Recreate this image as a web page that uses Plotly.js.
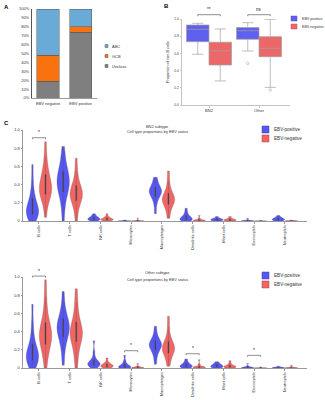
<!DOCTYPE html>
<html>
<head>
<meta charset="utf-8">
<script src="https://cdn.plot.ly/plotly-3.0.1.min.js"></script>
<style>html,body{margin:0;padding:0;background:#fff;}#chart{width:325px;height:400px;}</style>
</head>
<body>
<div id="chart"></div>
<script>
// ---------- Panel A data (percent of cases) ----------
const aCategories = ['EBV negative', 'EBV positive'];
const aUnclass = [19, 74];
const aGCB = [29, 6];
const aABC = [52, 20];
const aYTicks = [0, 10, 20, 30, 40, 50, 60, 70, 80, 90, 100];

// ---------- Panel B data (precomputed box statistics) ----------
const bCategories = ['BN2', 'Other'];
const bPosQ1 = [0.736, 0.764];
const bPosMedian = [0.880, 0.864];
const bPosQ3 = [0.930, 0.900];
const bPosLower = [0.590, 0.628];
const bPosUpper = [0.950, 0.957];
const bNegQ1 = [0.465, 0.562];
const bNegMedian = [0.630, 0.659];
const bNegQ3 = [0.730, 0.795];
const bNegLower = [0.280, 0.205];
const bNegUpper = [0.884, 0.996];
const bPosOutlierCat = [1];
const bPosOutlierVal = [0.484];
const bNegOutlierCat = [1];
const bNegOutlierVal = [0.174];
const bSigLabels = ['**', 'ns'];
const bSigY = [1.05, 1.05];

// ---------- Panel C data (estimated sample proportions per cell type) ----------
const cellTypes = ['B cells', 'T cells', 'NK cells', 'Monocytes', 'Macrophages',
  'Dendritic cells', 'Mast cells', 'Eosinophils', 'Neutrophils'];
const cTickVals = [0, 0.2, 0.4, 0.6, 0.8, 1.0];
const cTickText = ['0', '0.2', '0.4', '0.6', '0.8', '1.0'];

const bn2Pos = [
  [0.0, 0.02, 0.04, 0.06, 0.08, 0.10, 0.11, 0.12, 0.13, 0.14, 0.16, 0.19, 0.24, 0.27, 0.33, 0.45, 0.62],
  [0.0, 0.15, 0.25, 0.30, 0.34, 0.38, 0.40, 0.42, 0.44, 0.46, 0.50, 0.53, 0.56, 0.62, 0.70, 0.82],
  [0.0, 0.005, 0.01, 0.015, 0.02, 0.02, 0.025, 0.03, 0.035, 0.04, 0.05, 0.06, 0.08],
  [0.0, 0.0, 0.0, 0.001, 0.001, 0.002, 0.003, 0.005, 0.01],
  [0.08, 0.18, 0.24, 0.27, 0.29, 0.31, 0.32, 0.33, 0.34, 0.35, 0.37, 0.40, 0.44, 0.48],
  [0.0, 0.005, 0.01, 0.015, 0.02, 0.025, 0.03, 0.04, 0.05, 0.07, 0.10, 0.14],
  [0.0, 0.005, 0.01, 0.012, 0.015, 0.02, 0.025, 0.03, 0.05],
  [0.0, 0.0, 0.001, 0.002, 0.003, 0.005, 0.01, 0.03],
  [0.0, 0.005, 0.01, 0.015, 0.02, 0.025, 0.03, 0.04, 0.06]
];
const bn2Neg = [
  [0.04, 0.18, 0.25, 0.28, 0.30, 0.32, 0.34, 0.36, 0.37, 0.39, 0.42, 0.46, 0.50, 0.54, 0.60, 0.70, 0.87],
  [0.0, 0.10, 0.17, 0.21, 0.24, 0.26, 0.28, 0.29, 0.30, 0.32, 0.35, 0.38, 0.40, 0.46, 0.55, 0.69],
  [0.0, 0.005, 0.01, 0.012, 0.015, 0.02, 0.02, 0.025, 0.03, 0.04, 0.05, 0.08],
  [0.0, 0.0, 0.0, 0.0, 0.001, 0.002, 0.003, 0.005, 0.01, 0.03],
  [0.03, 0.10, 0.15, 0.18, 0.20, 0.22, 0.23, 0.24, 0.25, 0.27, 0.29, 0.31, 0.36, 0.44, 0.55],
  [0.0, 0.0, 0.002, 0.004, 0.005, 0.008, 0.01, 0.015, 0.03, 0.06],
  [0.0, 0.003, 0.006, 0.01, 0.012, 0.015, 0.02, 0.03, 0.05],
  [0.0, 0.0, 0.0, 0.001, 0.001, 0.002, 0.005],
  [0.0, 0.0, 0.001, 0.002, 0.003, 0.005, 0.01]
];
const otherPos = [
  [0.0, 0.02, 0.05, 0.07, 0.09, 0.11, 0.13, 0.14, 0.15, 0.17, 0.19, 0.22, 0.25, 0.30, 0.38, 0.50, 0.70],
  [0.03, 0.18, 0.27, 0.33, 0.37, 0.40, 0.42, 0.44, 0.46, 0.48, 0.51, 0.55, 0.60, 0.68, 0.84],
  [0.0, 0.01, 0.02, 0.03, 0.04, 0.045, 0.05, 0.055, 0.06, 0.07, 0.09, 0.12, 0.18, 0.30],
  [0.0, 0.002, 0.005, 0.008, 0.01, 0.015, 0.02, 0.03, 0.05, 0.08, 0.14],
  [0.04, 0.12, 0.17, 0.20, 0.22, 0.24, 0.25, 0.26, 0.27, 0.28, 0.30, 0.33, 0.38, 0.46],
  [0.0, 0.005, 0.01, 0.015, 0.02, 0.025, 0.03, 0.04, 0.05, 0.07, 0.10],
  [0.0, 0.005, 0.01, 0.015, 0.02, 0.025, 0.03, 0.04, 0.05, 0.07],
  [0.0, 0.001, 0.002, 0.003, 0.005, 0.008, 0.01, 0.02, 0.05],
  [0.0, 0.001, 0.002, 0.003, 0.005, 0.008, 0.01, 0.02]
];
const otherNeg = [
  [0.0, 0.10, 0.18, 0.22, 0.26, 0.30, 0.32, 0.34, 0.36, 0.38, 0.40, 0.43, 0.45, 0.50, 0.56, 0.65, 0.78, 0.97],
  [0.0, 0.12, 0.20, 0.27, 0.31, 0.34, 0.36, 0.38, 0.40, 0.42, 0.45, 0.48, 0.53, 0.62, 0.72, 0.87],
  [0.0, 0.005, 0.01, 0.015, 0.02, 0.025, 0.03, 0.035, 0.04, 0.05, 0.07, 0.11],
  [0.0, 0.0, 0.001, 0.002, 0.003, 0.005, 0.01, 0.02, 0.05],
  [0.02, 0.08, 0.13, 0.16, 0.18, 0.20, 0.21, 0.22, 0.23, 0.25, 0.27, 0.30, 0.35, 0.45, 0.57],
  [0.0, 0.002, 0.004, 0.006, 0.008, 0.01, 0.015, 0.02, 0.04, 0.09],
  [0.0, 0.004, 0.008, 0.01, 0.015, 0.02, 0.025, 0.03, 0.05, 0.08],
  [0.0, 0.0, 0.001, 0.001, 0.002, 0.003, 0.01],
  [0.0, 0.0, 0.001, 0.002, 0.003, 0.005, 0.01, 0.03]
];
const c1SigCat = [0];
const c1SigY = [0.915];
const c2SigCat = [0, 3, 5, 7];
const c2SigY = [1.01, 0.19, 0.157, 0.139];

// ---------- layout geometry (pixels) ----------
const W = 325, H = 400;
const FONT = 'Liberation Sans, Arial, sans-serif';
const panA = {x: [32, 97], y: [9, 98], xr: [-0.49, 1.5], yr: [0, 100]};
const panB = {x: [182, 290], y: [19, 105], xr: [-0.54, 1.62], yr: [0, 1]};
const panC1 = {x: [23, 307], y: [130, 221], xr: [-0.52, 8.72], yr: [0, 1]};
const panC2 = {x: [23, 307], y: [277, 368], xr: [-0.52, 8.72], yr: [0, 1]};
const VGAP = 0.15, VGGAP = 0.05, BGAP = 0.1;
const vOff = (1 - VGAP) / 4;
const bOff = (1 - BGAP) / 4;

const COL_ABC = '#6aaad6', COL_GCB = '#f8730f', COL_UNC = '#7f7f7f';
const COL_POS = 'rgba(72,72,242,0.92)', COL_NEG = 'rgba(240,88,88,0.92)';
const COL_BPOS = 'rgb(96,96,238)', COL_BNEG = 'rgb(236,104,104)';

function dom(p) {
  return {x: [p.x[0] / W, p.x[1] / W], y: [1 - p.y[1] / H, 1 - p.y[0] / H]};
}
function pxX(p, v) { return p.x[0] + (v - p.xr[0]) / (p.xr[1] - p.xr[0]) * (p.x[1] - p.x[0]); }
function pxY(p, v) { return p.y[1] - (v - p.yr[0]) / (p.yr[1] - p.yr[0]) * (p.y[1] - p.y[0]); }
function paperX(px) { return px / W; }
function paperY(py) { return 1 - py / H; }

const shapes = [];
const annotations = [];

function bracket(p, idx, yv, label, off, fs) {
  const x0 = pxX(p, idx - off), x1 = pxX(p, idx + off), yy = pxY(p, yv);
  const ln = {color: '#444', width: 0.6};
  shapes.push({type: 'line', xref: 'paper', yref: 'paper', x0: paperX(x0), x1: paperX(x1), y0: paperY(yy), y1: paperY(yy), line: ln});
  shapes.push({type: 'line', xref: 'paper', yref: 'paper', x0: paperX(x0), x1: paperX(x0), y0: paperY(yy), y1: paperY(yy + 1.5), line: ln});
  shapes.push({type: 'line', xref: 'paper', yref: 'paper', x0: paperX(x1), x1: paperX(x1), y0: paperY(yy), y1: paperY(yy + 1.5), line: ln});
  annotations.push({xref: 'paper', yref: 'paper', x: paperX((x0 + x1) / 2), y: paperY(yy - 0.3), text: label,
    showarrow: false, xanchor: 'center', yanchor: 'bottom', font: {size: fs, color: '#222', family: FONT}});
}
function text(px, py, t, size, opts) {
  annotations.push(Object.assign({xref: 'paper', yref: 'paper', x: paperX(px), y: paperY(py), text: t,
    showarrow: false, xanchor: 'left', yanchor: 'middle', font: {size: size, color: '#333', family: FONT}}, opts || {}));
}
function swatch(x0, y0, w, h, color, lineColor) {
  shapes.push({type: 'rect', xref: 'paper', yref: 'paper', x0: paperX(x0), x1: paperX(x0 + w),
    y0: paperY(y0 + h), y1: paperY(y0), fillcolor: color, line: {color: lineColor, width: 0.5}});
}

// ---------- traces ----------
const traces = [];
// Panel A stacked bars
[[aUnclass, 'Unclass', COL_UNC], [aGCB, 'GCB', COL_GCB], [aABC, 'ABC', COL_ABC]].forEach(function (s) {
  traces.push({type: 'bar', x: aCategories, y: s[0], name: s[1], xaxis: 'x', yaxis: 'y', width: 0.68,
    marker: {color: s[2], line: {color: '#555', width: 0.5}}, showlegend: false, hoverinfo: 'skip'});
});

// Panel B boxes
const bIdx = bCategories.map(function (c, i) { return i; });
traces.push({type: 'box', x: bIdx, q1: bPosQ1, median: bPosMedian, q3: bPosQ3, lowerfence: bPosLower, upperfence: bPosUpper,
  name: 'EBV-positive', xaxis: 'x2', yaxis: 'y2', offsetgroup: 'pos', fillcolor: COL_BPOS,
  line: {color: '#a0a0a0', width: 0.7}, whiskerwidth: 0.5, showlegend: false, boxpoints: false});
traces.push({type: 'box', x: bIdx, q1: bNegQ1, median: bNegMedian, q3: bNegQ3, lowerfence: bNegLower, upperfence: bNegUpper,
  name: 'EBV-negative', xaxis: 'x2', yaxis: 'y2', offsetgroup: 'neg', fillcolor: COL_BNEG,
  line: {color: '#a0a0a0', width: 0.7}, whiskerwidth: 0.5, showlegend: false, boxpoints: false});
traces.push({type: 'scatter', mode: 'markers', x: bPosOutlierCat.map(function (c) { return c - bOff; }), y: bPosOutlierVal,
  xaxis: 'x2', yaxis: 'y2', marker: {symbol: 'circle-open', size: 2.5, color: '#999', line: {width: 0.5}}, showlegend: false});
traces.push({type: 'scatter', mode: 'markers', x: bNegOutlierCat.map(function (c) { return c + bOff; }), y: bNegOutlierVal,
  xaxis: 'x2', yaxis: 'y2', marker: {symbol: 'circle-open', size: 2.5, color: '#999', line: {width: 0.5}}, showlegend: false});

// Panel C violins
function addViolins(data, grp, color, xa, ya, tag) {
  data.forEach(function (vals, i) {
    traces.push({type: 'violin', x: vals.map(function () { return cellTypes[i]; }), y: vals,
      name: grp === 'pos' ? 'EBV-positive' : 'EBV-negative', xaxis: xa, yaxis: ya,
      offsetgroup: grp, alignmentgroup: tag, scalegroup: tag + grp + i, scalemode: 'width',
      spanmode: 'hard', points: false, fillcolor: color,
      line: {color: 'rgba(90,90,90,0.55)', width: 0.5},
      box: {visible: true, width: 0.09, fillcolor: '#404040', line: {color: '#555', width: 0.3}},
      meanline: {visible: false}, showlegend: false, hoverinfo: 'skip'});
  });
}
addViolins(bn2Pos, 'pos', COL_POS, 'x3', 'y3', 'c1');
addViolins(bn2Neg, 'neg', COL_NEG, 'x3', 'y3', 'c1');
addViolins(otherPos, 'pos', COL_POS, 'x4', 'y4', 'c2');
addViolins(otherNeg, 'neg', COL_NEG, 'x4', 'y4', 'c2');

// ---------- annotations, brackets, legends ----------
text(2, 7, '<b>A</b>', 6, {font: {size: 6, color: '#000', family: FONT}});
text(162, 6, '<b>B</b>', 6, {font: {size: 6, color: '#000', family: FONT}});
text(2, 123, '<b>C</b>', 6, {font: {size: 6, color: '#000', family: FONT}});

// A legend
[['ABC', COL_ABC, 46], ['GCB', COL_GCB, 56], ['Unclass', COL_UNC, 66]].forEach(function (l) {
  swatch(105, l[2] - 1.5, 3, 3, l[1], '#555');
  text(109.5, l[2], l[0], 4);
});
// B legend
swatch(291, 16, 6, 5, COL_BPOS, '#5050c0');
swatch(291, 24, 6, 5, COL_BNEG, '#c05050');
text(300, 18.5, 'EBV-positive', 3.6);
text(300, 26.5, 'EBV-negative', 3.6);
// B y title
annotations.push({xref: 'paper', yref: 'paper', x: paperX(168), y: paperY(62), text: 'Proportion of non-B cells',
  textangle: -90, showarrow: false, xanchor: 'center', yanchor: 'middle', font: {size: 3.8, color: '#333', family: FONT}});
bSigLabels.forEach(function (lab, i) { bracket(panB, i, bSigY[i], lab, bOff, 4.5); });

// C titles and legends
text(157, 126.7, 'BN2 subtype', 3.9, {xanchor: 'center'});
text(157, 131.7, 'Cell type proportions by EBV status', 3.9, {xanchor: 'center'});
text(157, 272.3, 'Other subtype', 3.9, {xanchor: 'center'});
text(157, 279, 'Cell type proportions by EBV status', 3.9, {xanchor: 'center'});
[[126, 135], [272, 281]].forEach(function (ys) {
  swatch(262, ys[0], 7, 7, COL_POS, '#4040a0');
  swatch(262, ys[1], 7, 7, COL_NEG, '#a04040');
  text(272, ys[0] + 3.5, 'EBV-positive', 4.6);
  text(272, ys[1] + 3.5, 'EBV-negative', 4.6);
});
c1SigCat.forEach(function (c, i) { bracket(panC1, c, c1SigY[i], '*', vOff, 5); });
c2SigCat.forEach(function (c, i) { bracket(panC2, c, c2SigY[i], '*', vOff, 5); });

// ---------- axes ----------
const tickFont = {size: 4, color: '#333', family: FONT};
const dA = dom(panA), dB = dom(panB), dC1 = dom(panC1), dC2 = dom(panC2);
const layout = {
  width: W, height: H, margin: {l: 0, r: 0, t: 0, b: 0}, paper_bgcolor: '#fff', plot_bgcolor: 'rgba(0,0,0,0)',
  showlegend: false, barmode: 'stack', boxmode: 'group', boxgap: BGAP, boxgroupgap: 0,
  violinmode: 'group', violingap: VGAP, violingroupgap: VGGAP,
  font: {family: FONT, size: 4, color: '#333'},
  xaxis: {domain: dA.x, anchor: 'y', type: 'category', range: panA.xr, showline: true, linecolor: '#9a9a9a', linewidth: 1,
    ticks: '', tickfont: tickFont, showgrid: false, zeroline: false, fixedrange: true, automargin: false, ticklabelstandoff: 1},
  yaxis: {domain: dA.y, anchor: 'x', range: panA.yr, tickvals: aYTicks, ticktext: aYTicks.map(function (v) { return v + '%'; }),
    showline: true, linecolor: '#555', linewidth: 1, ticks: '', tickfont: tickFont, showgrid: false, zeroline: false,
    automargin: false, ticklabelstandoff: 1},
  xaxis2: {domain: dB.x, anchor: 'y2', range: panB.xr, tickvals: bIdx, ticktext: bCategories, showline: true, linecolor: '#c4c4c4',
    ticks: 'outside', ticklen: 1.5, tickcolor: '#c4c4c4', tickfont: {size: 4, color: '#333', family: FONT}, showgrid: false,
    zeroline: false, automargin: false},
  yaxis2: {domain: dB.y, anchor: 'x2', range: panB.yr, tickvals: [0, 0.2, 0.4, 0.6, 0.8, 1.0], tickformat: '.1f',
    showline: true, linecolor: '#c4c4c4', ticks: 'outside', ticklen: 1.5, tickcolor: '#c4c4c4',
    tickfont: {size: 3.3, color: '#444', family: FONT}, showgrid: false, zeroline: false, automargin: false},
  xaxis3: {domain: dC1.x, anchor: 'y3', type: 'category', categoryorder: 'array', categoryarray: cellTypes, range: panC1.xr,
    showline: true, linecolor: '#999', ticks: 'outside', ticklen: 1.5, tickcolor: '#999', tickangle: -90,
    tickfont: tickFont, showgrid: false, zeroline: false, automargin: false},
  yaxis3: {domain: dC1.y, anchor: 'x3', range: panC1.yr, tickvals: cTickVals, ticktext: cTickText, showline: true, linecolor: '#999',
    ticks: 'outside', ticklen: 1.5, tickcolor: '#999', tickfont: tickFont, showgrid: false, zeroline: false, automargin: false},
  xaxis4: {domain: dC2.x, anchor: 'y4', type: 'category', categoryorder: 'array', categoryarray: cellTypes, range: panC2.xr,
    showline: true, linecolor: '#999', ticks: 'outside', ticklen: 1.5, tickcolor: '#999', tickangle: -90,
    tickfont: tickFont, showgrid: false, zeroline: false, automargin: false},
  yaxis4: {domain: dC2.y, anchor: 'x4', range: panC2.yr, tickvals: cTickVals, ticktext: cTickText, showline: true, linecolor: '#999',
    ticks: 'outside', ticklen: 1.5, tickcolor: '#999', tickfont: tickFont, showgrid: false, zeroline: false, automargin: false},
  shapes: shapes, annotations: annotations
};

Plotly.newPlot('chart', traces, layout, {displayModeBar: false, staticPlot: true});
</script>
</body>
</html>
